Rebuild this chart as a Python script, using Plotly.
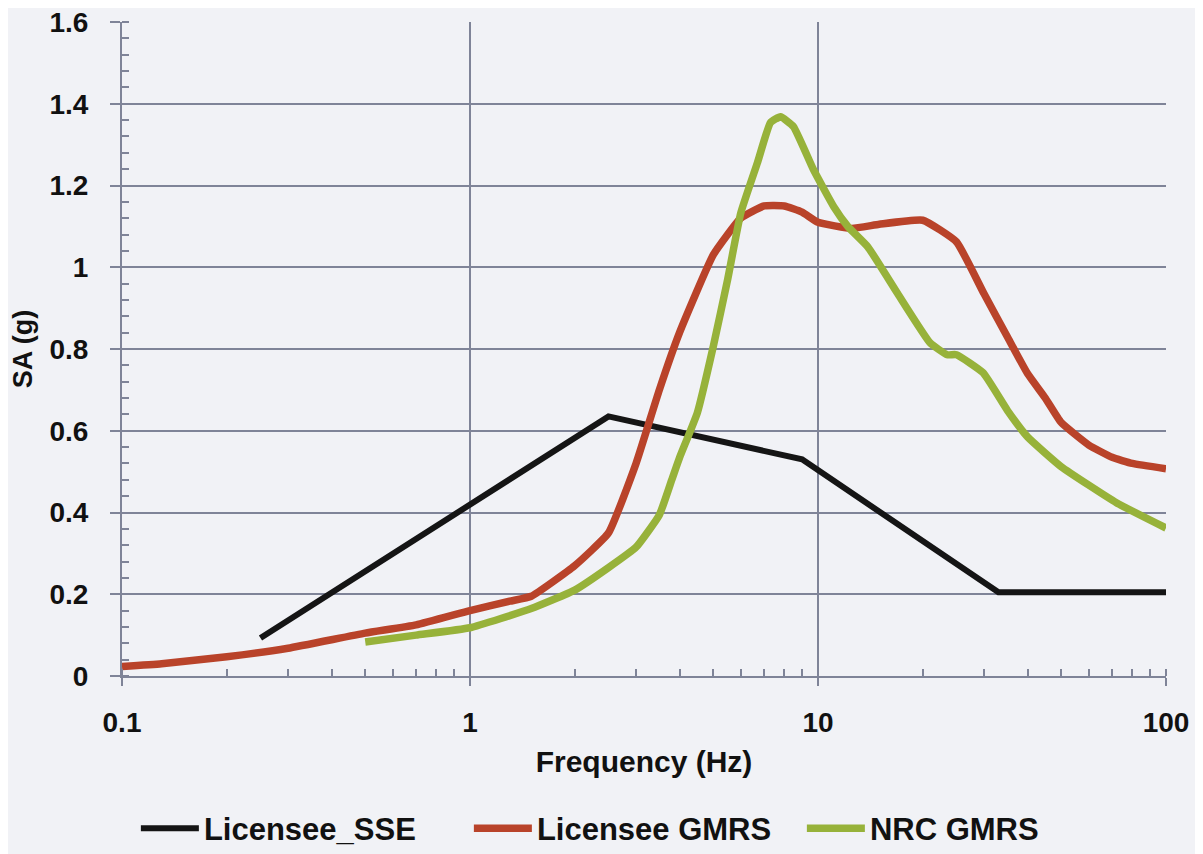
import plotly.graph_objects as go

# ---- data ----
sse_freq = [0.25, 2.5, 9.0, 33.0, 100.0]
sse_sa = [0.093, 0.635, 0.53, 0.205, 0.205]

lic_freq = [0.1, 0.13, 0.2, 0.3, 0.5, 0.7, 1.0, 1.3, 1.5, 2.0, 2.5, 3.0, 3.5, 4.0, 5.0, 6.0, 7.0,
            8.0, 9.0, 10.0, 12.5, 15.0, 20.0, 25.0, 30.0, 35.0, 40.0, 45.0, 50.0, 60.0, 70.0, 80.0, 100.0]
lic_sa = [0.023, 0.03, 0.047, 0.068, 0.105, 0.125, 0.16, 0.183, 0.195, 0.27, 0.35, 0.52, 0.70, 0.84,
          1.03, 1.12, 1.15, 1.15, 1.135, 1.11, 1.095, 1.105, 1.115, 1.062, 0.935, 0.83, 0.74, 0.68,
          0.62, 0.565, 0.535, 0.52, 0.507]

nrc_freq = [0.5, 0.7, 1.0, 1.5, 2.0, 2.5, 3.0, 3.5, 3.8, 4.0, 4.5, 5.0, 5.5, 6.0, 6.7, 7.3, 7.8, 8.5,
            9.7, 11.1, 12.2, 13.9, 16.9, 21.0, 23.5, 25.0, 29.8, 35.0, 40.0, 50.0, 72.0, 100.0]
nrc_sa = [0.083, 0.1, 0.118, 0.165, 0.21, 0.265, 0.315, 0.394, 0.48, 0.534, 0.644, 0.806, 0.97, 1.133,
          1.256, 1.354, 1.368, 1.344, 1.239, 1.148, 1.099, 1.05, 0.937, 0.815, 0.786, 0.786, 0.742,
          0.65, 0.585, 0.512, 0.424, 0.362]

x_ticks = [0.1, 1, 10, 100]
x_tick_text = ["0.1", "1", "10", "100"]
y_ticks = [0, 0.2, 0.4, 0.6, 0.8, 1.0, 1.2, 1.4, 1.6]
y_tick_text = ["0", "0.2", "0.4", "0.6", "0.8", "1", "1.2", "1.4", "1.6"]

FONT = "Liberation Sans, Arial, Helvetica, sans-serif"
GRID = "#7f8498"
BG = "#f1f2f6"

fig = go.Figure()
fig.add_trace(go.Scatter(x=sse_freq, y=sse_sa, mode="lines", name="Licensee_SSE",
                         line=dict(color="#151515", width=6)))
fig.add_trace(go.Scatter(x=lic_freq, y=lic_sa, mode="lines", name="Licensee GMRS",
                         line=dict(color="#b9432a", width=7.5, shape="spline", smoothing=0.4)))
fig.add_trace(go.Scatter(x=nrc_freq, y=nrc_sa, mode="lines", name="NRC GMRS",
                         line=dict(color="#97b23a", width=7.5, shape="spline", smoothing=0.4)))

# page body has an 8px margin; figure is sized/offset to land the plot area where the reference has it
fig.update_layout(
    width=1195, height=846,
    paper_bgcolor=BG, plot_bgcolor=BG,
    margin=dict(l=114, r=37, t=14, b=178, autoexpand=False),
    font=dict(family=FONT, color="#111111"),
    showlegend=True,
    legend=dict(orientation="h", xref="container", yref="container",
                x=0.525, xanchor="center", y=0.03, yanchor="middle",
                font=dict(family=FONT, size=31, weight="bold", color="#111111"),
                itemwidth=58, entrywidth=260, entrywidthmode="pixels",
                bgcolor="rgba(0,0,0,0)", tracegroupgap=0),
    xaxis=dict(
        type="log", range=[-1, 2], tickvals=x_ticks, ticktext=x_tick_text,
        showgrid=True, gridcolor=GRID, gridwidth=1.5,
        showline=True, linecolor=GRID, linewidth=2,
        ticks="outside", ticklen=8, tickcolor=GRID, tickwidth=1.5,
        tickfont=dict(family=FONT, size=28, weight="bold", color="#111111"),
        ticklabelstandoff=12, ticklabeloverflow="allow",
        minor=dict(ticks="inside", ticklen=7, tickcolor=GRID, tickwidth=1.5, dtick="D1", showgrid=False),
        title=dict(text="Frequency (Hz)", standoff=14,
                   font=dict(family=FONT, size=30, weight="bold", color="#111111")),
        zeroline=False, automargin=False,
    ),
    yaxis=dict(
        range=[0, 1.6], tickvals=y_ticks, ticktext=y_tick_text,
        showgrid=True, gridcolor=GRID, gridwidth=1.5,
        showline=True, linecolor=GRID, linewidth=2,
        ticks="outside", ticklen=10, tickcolor=GRID, tickwidth=1.5,
        tickfont=dict(family=FONT, size=28, weight="bold", color="#111111"),
        ticklabelstandoff=16, ticklabeloverflow="allow",
        minor=dict(ticks="inside", ticklen=7, tickcolor=GRID, tickwidth=1.5, dtick=0.04, showgrid=False),
        title=dict(text="SA (g)", standoff=10,
                   font=dict(family=FONT, size=27, weight="bold", color="#111111")),
        zeroline=False, automargin=False,
    ),
)

fig.write_html("out.html")
